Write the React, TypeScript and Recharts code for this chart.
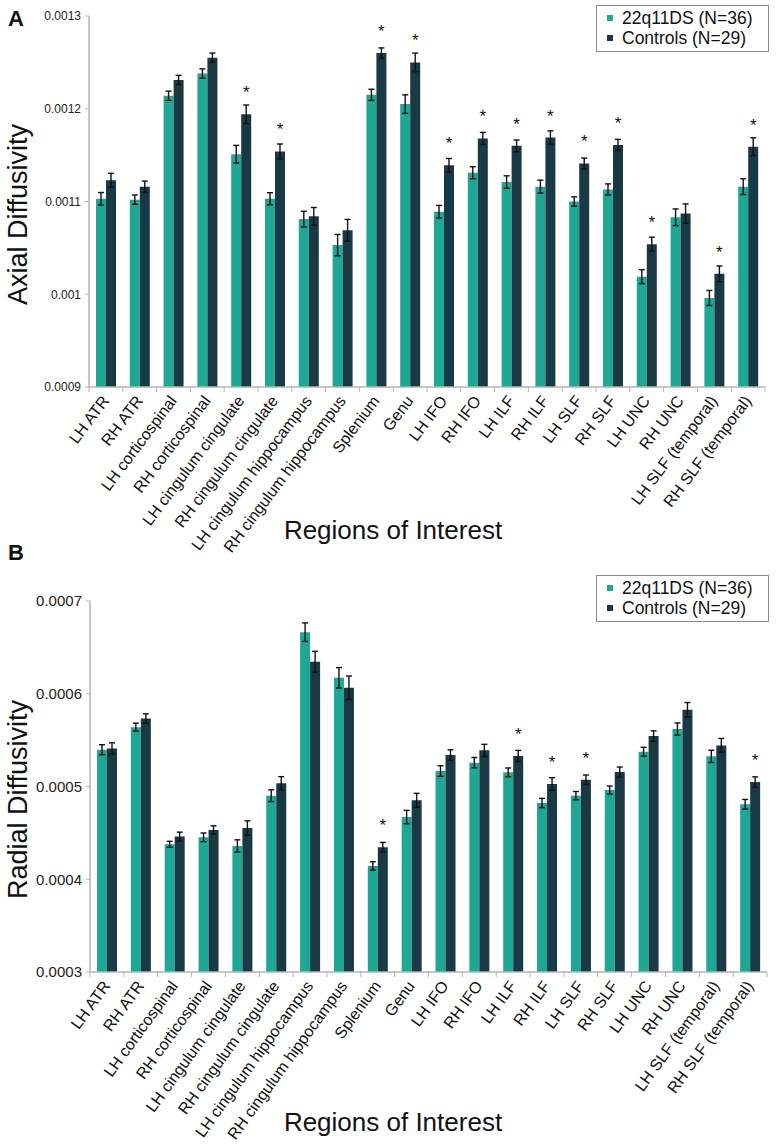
import { Bar, BarChart, ErrorBar, LabelList, Legend, XAxis, YAxis } from "recharts";

const regions = [
  "LH ATR",
  "RH ATR",
  "LH corticospinal",
  "RH corticospinal",
  "LH cingulum cingulate",
  "RH cingulum cingulate",
  "LH cingulum hippocampus",
  "RH cingulum hippocampus",
  "Splenium",
  "Genu",
  "LH IFO",
  "RH IFO",
  "LH ILF",
  "RH ILF",
  "LH SLF",
  "RH SLF",
  "LH UNC",
  "RH UNC",
  "LH SLF (temporal)",
  "RH SLF (temporal)",
];

// panel A - axial diffusivity
const axial22q = [
  0.001103, 0.001102, 0.001214, 0.001238, 0.001151, 0.001103, 0.001081, 0.001053, 0.001215, 0.001205,
  0.001089, 0.001131, 0.001121, 0.001116, 0.0011, 0.001113, 0.001019, 0.001083, 0.000996, 0.001116,
];
const axial22qErr = [
  0.0000067, 0.000005, 0.000005, 0.000005, 0.0000095, 0.0000065, 0.0000085, 0.0000115, 0.000006, 0.00001,
  0.0000068, 0.0000065, 0.0000067, 0.000007, 0.000005, 0.000006, 0.0000075, 0.000009, 0.0000081, 0.0000085,
];
const axialCtrl = [
  0.001123, 0.001116, 0.001231, 0.001255, 0.001194, 0.001154, 0.001084, 0.001069, 0.00126, 0.00125,
  0.001139, 0.001168, 0.00116, 0.001169, 0.001141, 0.001161, 0.001054, 0.001087, 0.001022, 0.001159,
];
const axialCtrlErr = [
  0.0000074, 0.000006, 0.000005, 0.000005, 0.00001, 0.000008, 0.0000095, 0.0000117, 0.0000056, 0.00001,
  0.0000074, 0.0000065, 0.0000063, 0.0000072, 0.0000058, 0.000006, 0.0000075, 0.0000104, 0.0000085, 0.0000097,
];
const axialSig = [
  false, false, false, false, true, true, false, false, true, true,
  true, true, true, true, true, true, true, false, true, true,
];
const axialTicks = [0.0009, 0.001, 0.0011, 0.0012, 0.0013];

// panel B - radial diffusivity
const radial22q = [
  0.0005397, 0.000564, 0.0004377, 0.0004452, 0.0004359, 0.0004901, 0.0006664, 0.0006172, 0.0004144, 0.0004671,
  0.0005167, 0.0005257, 0.0005153, 0.0004822, 0.0004901, 0.0004962, 0.0005375, 0.0005619, 0.0005325, 0.0004808,
];
const radial22qErr = [
  0.0000054, 0.0000043, 0.0000032, 0.0000047, 0.0000066, 0.0000063, 0.00001, 0.000011, 0.0000045, 0.0000072,
  0.0000057, 0.0000056, 0.0000047, 0.000005, 0.0000045, 0.0000043, 0.0000048, 0.0000066, 0.0000066, 0.0000052,
];
const radialCtrl = [
  0.0005411, 0.0005734, 0.000446, 0.0004531, 0.0004553, 0.0005034, 0.0006345, 0.0006065, 0.0004345, 0.0004851,
  0.0005339, 0.000539, 0.0005329, 0.0005027, 0.0005074, 0.0005156, 0.0005544, 0.0005828, 0.0005443, 0.0005048,
];
const radialCtrlErr = [
  0.000006, 0.000005, 0.0000048, 0.0000045, 0.0000077, 0.0000072, 0.0000113, 0.0000126, 0.0000052, 0.0000075,
  0.0000057, 0.0000065, 0.000006, 0.0000068, 0.000005, 0.0000054, 0.0000056, 0.0000077, 0.0000075, 0.0000056,
];
const radialSig = [
  false, false, false, false, false, false, false, false, true, false,
  false, false, true, true, true, false, false, false, false, true,
];
const radialTicks = [0.0003, 0.0004, 0.0005, 0.0006, 0.0007];

const groupLabels = ["22q11DS (N=36)", "Controls (N=29)"];

const TEAL = "#1fa795";
const DARK = "#193944";
const AXIS = "#b4b4b4";
const FONT = "'Liberation Sans', Arial, sans-serif";

const buildRows = (g: number[], gErr: number[], c: number[], cErr: number[], sig: boolean[]) =>
  regions.map((name, i) => ({
    name,
    g: g[i],
    gErr: gErr[i],
    c: c[i],
    cErr: cErr[i],
    star: sig[i] ? "*" : "",
  }));

const axialRows = buildRows(axial22q, axial22qErr, axialCtrl, axialCtrlErr, axialSig);
const radialRows = buildRows(radial22q, radial22qErr, radialCtrl, radialCtrlErr, radialSig);

const renderLegend = (boxTop: number) => () => (
  <div
    style={{
      position: "absolute",
      top: boxTop,
      left: 596,
      width: 173,
      border: "1.5px solid #8a8a8a",
      padding: "2px 0 3px 10px",
      boxSizing: "border-box",
      fontFamily: FONT,
      fontSize: 17.5,
      lineHeight: "20px",
      color: "#111",
      background: "#fff",
    }}
  >
    {groupLabels.map((t, i) => (
      <div key={t} style={{ display: "flex", alignItems: "center" }}>
        <span
          style={{
            display: "inline-block",
            width: 6,
            height: 6,
            background: i === 0 ? TEAL : DARK,
            marginRight: 9,
          }}
        />
        {t}
      </div>
    ))}
  </div>
);

const starLabel = (props: any) => {
  const { x, y, width, value } = props;
  if (!value) return null;
  return (
    <text x={x + width / 2} y={y - 16} textAnchor="middle" fontSize={17} fontFamily={FONT} fill="#111">
      {value}
    </text>
  );
};

type PanelProps = {
  rows: any[];
  ticks: number[];
  letter: string;
  yTitle: string;
  height: number;
  top: number;
  plotTop: number;
  plotBottom: number;
  left: number;
  right: number;
  yTickSize: number;
  angle: number;
  legendTop: number;
  xTitleY: number;
};

const Panel = (p: PanelProps) => {
  const band = (777 - p.right - p.left) / regions.length;
  const xAxisHeight = p.height - p.plotBottom;

  const regionTick = (t: any) => {
    const { x, y, payload, index } = t;
    return (
      <g>
        <line x1={x - band / 2} x2={x - band / 2} y1={y} y2={y + 5} stroke={AXIS} strokeWidth={1} />
        {index === regions.length - 1 && (
          <line x1={x + band / 2} x2={x + band / 2} y1={y} y2={y + 5} stroke={AXIS} strokeWidth={1} />
        )}
        <text
          transform={`translate(${x + 4},${y + 14}) rotate(${p.angle})`}
          textAnchor="end"
          fontSize={16}
          fontFamily={FONT}
          fill="#111"
        >
          {payload.value}
        </text>
      </g>
    );
  };

  return (
    <div style={{ position: "absolute", left: 0, top: p.top, width: 777, height: p.height }}>
      <div
        style={{
          position: "absolute",
          left: 8,
          top: p.letter === "A" ? 6 : -20,
          fontFamily: FONT,
          fontWeight: "bold",
          fontSize: 22,
          color: "#111",
        }}
      >
        {p.letter}
      </div>
      <BarChart
        width={777}
        height={p.height}
        data={p.rows}
        margin={{ top: p.plotTop, right: p.right, left: 0, bottom: 0 }}
        barGap={0}
        barSize={10}
      >
        <XAxis
          dataKey="name"
          height={xAxisHeight}
          interval={0}
          tickSize={0}
          tickMargin={0}
          tickLine={false}
          axisLine={{ stroke: AXIS, strokeWidth: 1.5 }}
          tick={regionTick}
          label={{
            content: () => (
              <text x={393} y={p.xTitleY} textAnchor="middle" fontSize={26} fontFamily={FONT} fill="#111">
                Regions of Interest
              </text>
            ),
          }}
        />
        <YAxis
          width={p.left}
          domain={[p.ticks[0], p.ticks[p.ticks.length - 1]]}
          ticks={p.ticks}
          allowDataOverflow
          tickSize={4}
          tickMargin={4}
          tickFormatter={(v: number) => String(v)}
          tick={{ fontSize: p.yTickSize, fontFamily: FONT, fill: "#222" }}
          tickLine={{ stroke: AXIS }}
          axisLine={{ stroke: AXIS, strokeWidth: 1.5 }}
          label={{
            content: (lp: any) => {
              const cy = lp.viewBox.y + lp.viewBox.height / 2 + 13;
              return (
                <text
                  transform={`translate(27,${cy}) rotate(-90)`}
                  textAnchor="middle"
                  fontSize={27}
                  fontFamily={FONT}
                  fill="#111"
                >
                  {p.yTitle}
                </text>
              );
            },
          }}
        />
        <Legend
          layout="vertical"
          align="center"
          verticalAlign="middle"
          content={renderLegend(p.legendTop)}
          wrapperStyle={{ position: "absolute", top: 0, left: 0, width: 0, height: 0 }}
        />
        <Bar dataKey="g" name={groupLabels[0]} fill={TEAL} isAnimationActive={false}>
          <ErrorBar dataKey="gErr" width={3} stroke="#111" strokeWidth={1.4} direction="y" />
        </Bar>
        <Bar dataKey="c" name={groupLabels[1]} fill={DARK} isAnimationActive={false}>
          <ErrorBar dataKey="cErr" width={3} stroke="#111" strokeWidth={1.4} direction="y" />
          <LabelList dataKey="star" content={starLabel} />
        </Bar>
      </BarChart>
    </div>
  );
}

export default function App() {
  return (
    <div style={{ position: "absolute", left: 0, top: 0, width: 777, height: 1144, background: "#fff" }}>
      <Panel
        rows={axialRows}
        ticks={axialTicks}
        letter="A"
        yTitle="Axial Diffusivity"
        height={560}
        top={0}
        plotTop={16}
        plotBottom={387}
        left={89}
        right={12}
        yTickSize={12}
        angle={-53}
        legendTop={5}
        xTitleY={539}
      />
      <Panel
        rows={radialRows}
        ticks={radialTicks}
        letter="B"
        yTitle="Radial Diffusivity"
        height={584}
        top={560}
        plotTop={41}
        plotBottom={412}
        left={90}
        right={10}
        yTickSize={15}
        angle={-54}
        legendTop={15}
        xTitleY={571}
      />
    </div>
  );
}
